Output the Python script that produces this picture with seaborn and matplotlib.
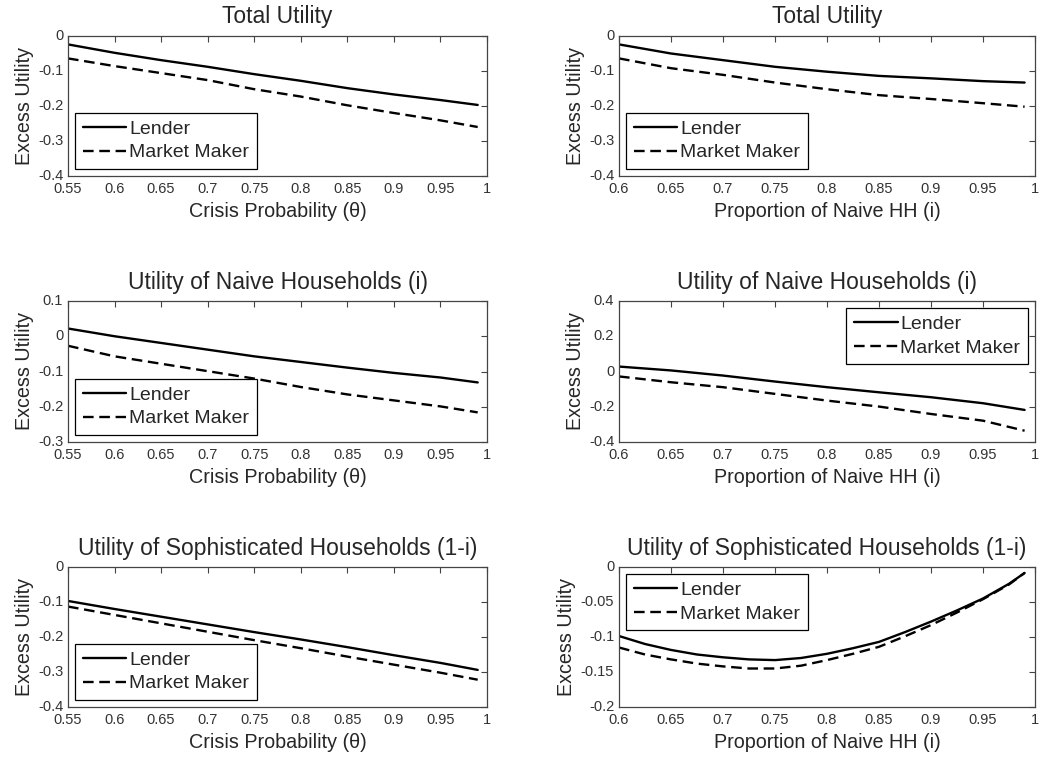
import numpy as np
import pandas as pd
import matplotlib
matplotlib.use("Agg")
import matplotlib.pyplot as plt
import seaborn as sns

# ---------------- data ----------------
theta = [0.55, 0.60, 0.65, 0.70, 0.75, 0.80, 0.85, 0.90, 0.95, 0.99]
naive = [0.60, 0.65, 0.70, 0.75, 0.80, 0.85, 0.90, 0.95, 0.99]
naive_fine = [0.60, 0.625, 0.65, 0.675, 0.70, 0.725, 0.75, 0.775, 0.80, 0.825,
              0.85, 0.875, 0.90, 0.925, 0.95, 0.975, 0.99]

total_theta_lender = [-0.024, -0.048, -0.069, -0.088, -0.109, -0.128, -0.149, -0.167, -0.183, -0.197]
total_theta_mm = [-0.064, -0.086, -0.106, -0.126, -0.152, -0.173, -0.198, -0.220, -0.241, -0.260]

total_naive_lender = [-0.024, -0.050, -0.069, -0.088, -0.102, -0.114, -0.121, -0.129, -0.133]
total_naive_mm = [-0.064, -0.092, -0.111, -0.133, -0.152, -0.169, -0.180, -0.192, -0.202]

naiveU_theta_lender = [0.022, 0.000, -0.019, -0.038, -0.057, -0.073, -0.089, -0.104, -0.117, -0.131]
naiveU_theta_mm = [-0.027, -0.057, -0.078, -0.099, -0.120, -0.144, -0.165, -0.182, -0.199, -0.216]

naiveU_naive_lender = [0.028, 0.006, -0.023, -0.057, -0.089, -0.118, -0.146, -0.180, -0.218]
naiveU_naive_mm = [-0.028, -0.061, -0.089, -0.127, -0.165, -0.199, -0.241, -0.279, -0.336]

soph_theta_lender = [-0.097, -0.120, -0.142, -0.164, -0.186, -0.207, -0.229, -0.252, -0.274, -0.294]
soph_theta_mm = [-0.113, -0.137, -0.161, -0.185, -0.209, -0.232, -0.256, -0.279, -0.302, -0.322]

soph_naive_lender = [-0.0986, -0.110, -0.1185, -0.125, -0.129, -0.132, -0.133, -0.130, -0.124,
                     -0.116, -0.107, -0.093, -0.078, -0.062, -0.045, -0.024, -0.0085]
soph_naive_mm = [-0.115, -0.125, -0.132, -0.138, -0.142, -0.145, -0.145, -0.141, -0.133,
                 -0.124, -0.114, -0.099, -0.083, -0.065, -0.046, -0.025, -0.0085]

titles = ["Total Utility", "Total Utility",
          "Utility of Naive Households (i)", "Utility of Naive Households (i)",
          "Utility of Sophisticated Households (1-i)", "Utility of Sophisticated Households (1-i)"]
xlabel_theta = "Crisis Probability (\u03b8)"
xlabel_naive = "Proportion of Naive HH (i)"
ylabel = "Excess Utility"
series_names = ["Lender", "Market Maker"]

xticks_theta = [0.55, 0.6, 0.65, 0.7, 0.75, 0.8, 0.85, 0.9, 0.95, 1.0]
xticks_naive = [0.6, 0.65, 0.7, 0.75, 0.8, 0.85, 0.9, 0.95, 1.0]
yticks_p1 = [-0.4, -0.3, -0.2, -0.1, 0.0]
yticks_p3 = [-0.3, -0.2, -0.1, 0.0, 0.1]
yticks_p4 = [-0.4, -0.2, 0.0, 0.2, 0.4]
yticks_p6 = [-0.2, -0.15, -0.1, -0.05, 0.0]

# ---------------- style ----------------
sns.set_style("white")
plt.rcParams['font.family'] = ['Liberation Sans', 'DejaVu Sans']
plt.rcParams['axes.unicode_minus'] = False
plt.rcParams['xtick.direction'] = 'in'
plt.rcParams['ytick.direction'] = 'in'

fig = plt.figure(figsize=(10.45, 7.57), dpi=100)

W, H = 1045.0, 757.0
cols = [(68, 487), (619, 1035)]
rows = [(36, 176), (301, 442), (567, 707)]

panels = [
    (theta, total_theta_lender, total_theta_mm, xticks_theta, yticks_p1, xlabel_theta, 'lower left'),
    (naive, total_naive_lender, total_naive_mm, xticks_naive, yticks_p1, xlabel_naive, 'lower left'),
    (theta, naiveU_theta_lender, naiveU_theta_mm, xticks_theta, yticks_p3, xlabel_theta, 'lower left'),
    (naive, naiveU_naive_lender, naiveU_naive_mm, xticks_naive, yticks_p4, xlabel_naive, 'upper right'),
    (theta, soph_theta_lender, soph_theta_mm, xticks_theta, yticks_p1, xlabel_theta, 'lower left'),
    (naive_fine, soph_naive_lender, soph_naive_mm, xticks_naive, yticks_p6, xlabel_naive, 'upper left'),
]


def fmt(v):
    s = f"{v:g}"
    return "0" if s in ("-0", "0") else s


for k, (x, yl, ym, xt, yt, xlab, loc) in enumerate(panels):
    r, c = divmod(k, 2)
    x0, x1 = cols[c]
    y0, y1 = rows[r]
    ax = fig.add_axes([x0 / W, 1 - y1 / H, (x1 - x0) / W, (y1 - y0) / H])
    df = pd.DataFrame({"x": x, "Lender": yl, "Market Maker": ym})
    sns.lineplot(data=df, x="x", y="Lender", ax=ax, color='black', lw=1.7,
                 label=series_names[0])
    sns.lineplot(data=df, x="x", y="Market Maker", ax=ax, color='black', lw=1.7,
                 label=series_names[1])
    ax.lines[1].set_dashes((4.5, 2.4))
    ax.set_xlim(xt[0], xt[-1])
    ax.set_ylim(yt[0], yt[-1])
    ax.set_xticks(xt)
    ax.set_xticklabels([fmt(v) for v in xt])
    ax.set_yticks(yt)
    ax.set_yticklabels([fmt(v) for v in yt], va='center')
    ax.tick_params(axis='both', which='both', direction='in', length=4, width=0.8,
                   top=True, right=True, labelsize=10.5, labelcolor='#333333',
                   color='#444444')
    ax.tick_params(axis='x', pad=4.5)
    ax.tick_params(axis='y', pad=3.5)
    for sp in ax.spines.values():
        sp.set_color('#444444')
        sp.set_linewidth(0.9)
    ax.set_title(titles[k], fontsize=16.5, pad=9)
    ax.set_xlabel(xlab, fontsize=14.2, labelpad=4)
    ax.set_ylabel(ylabel, fontsize=14.2, labelpad=3)
    leg = ax.legend(loc=loc, fontsize=14, frameon=True, fancybox=False,
                    edgecolor='black', framealpha=1, handlelength=2.25,
                    handletextpad=0.15, borderpad=0.4, labelspacing=0.3,
                    borderaxespad=0.35)
    leg.get_frame().set_linewidth(0.9)

fig.savefig("out.png", dpi=100)
